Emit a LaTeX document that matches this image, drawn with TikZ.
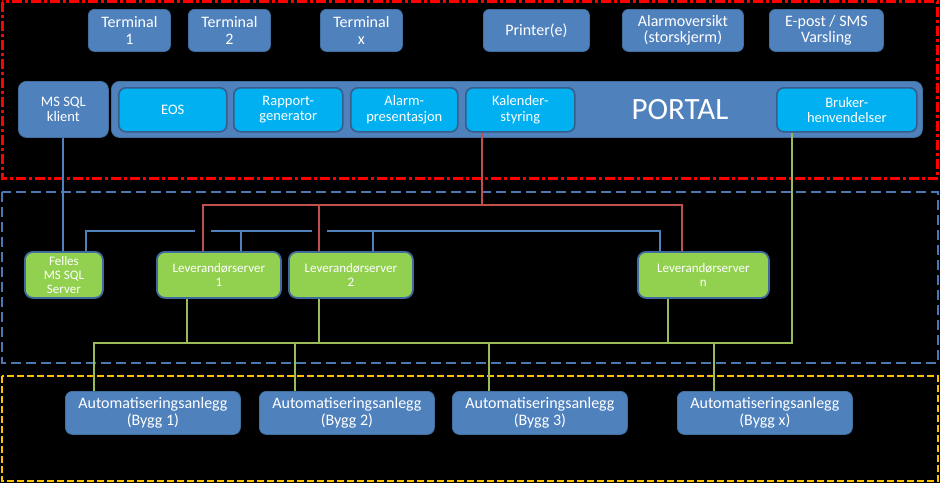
\documentclass[tikz,border=0pt]{standalone}
\usepackage{fontspec}
\setmainfont{Carlito}
\definecolor{boxblue}{HTML}{4F81BD}
\definecolor{boxedge}{HTML}{41709F}
\definecolor{cyanfill}{HTML}{00B0F0}
\definecolor{cyanedge}{HTML}{385D8A}
\definecolor{greenfill}{HTML}{92D050}
\definecolor{greenedge}{HTML}{3F6A9E}
\definecolor{redline}{HTML}{C0504D}
\definecolor{blueline}{HTML}{4F81BD}
\definecolor{greenline}{HTML}{9BBB59}
\definecolor{redframe}{HTML}{FF0000}
\definecolor{blueframe}{HTML}{4A78B4}
\definecolor{yellowframe}{HTML}{FFC000}
\tikzset{
  box/.style={rectangle, rounded corners=6pt, inner sep=0pt, anchor=north west, align=center, text=white},
  tbox/.style={box, fill=boxblue, draw=boxedge, line width=0.8pt, font=\fontsize{16}{16.5}\selectfont},
  pbox/.style={box, fill=cyanfill, draw=cyanedge, line width=1.6pt, rounded corners=7pt, font=\fontsize{14.5}{15.5}\selectfont},
  gbox/.style={box, fill=greenfill, draw=greenedge, line width=1.8pt, rounded corners=8pt, font=\fontsize{13}{14}\selectfont},
  abox/.style={box, fill=boxblue, draw=boxedge, line width=0.8pt, rounded corners=7pt, font=\fontsize{16}{17}\selectfont},
  rl/.style={draw=redline, line width=2pt},
  bl/.style={draw=blueline, line width=2pt},
  gl/.style={draw=greenline, line width=2pt},
}
\begin{document}
\begin{tikzpicture}[x=1pt,y=1pt]
\useasboundingbox (0,0) rectangle (940,-483);
\fill[black] (0,0) rectangle (940,-483);
% frames
\draw[redframe, line width=3pt, dash pattern=on 10pt off 3pt on 3pt off 3pt] (2,-1.5) rectangle (937.5,-178);
\draw[blueframe, line width=2.5pt, dash pattern=on 10pt off 5pt] (2,-192) rectangle (938,-363);
\draw[yellowframe, line width=2.5pt, dash pattern=on 7pt off 3pt] (2,-376) rectangle (938,-481);

% top row
\node[tbox, minimum width=82pt, minimum height=42pt] (t1) at (88,-9) {Terminal\\1};
\node[tbox, minimum width=82pt, minimum height=42pt] (t2) at (188,-9) {Terminal\\2};
\node[tbox, minimum width=82pt, minimum height=42pt] (tx) at (320,-9) {Terminal\\x};
\node[tbox, minimum width=106pt, minimum height=42pt] (pr) at (483,-9) {Printer(e)};
\node[tbox, minimum width=121pt, minimum height=42pt] (al) at (622,-9) {Alarmoversikt\\(storskjerm)};
\node[tbox, minimum width=114pt, minimum height=42pt] (ep) at (769,-9) {E-post / SMS\\Varsling};

% portal row
\node[tbox, rounded corners=8pt, minimum width=90pt, minimum height=56pt, font=\fontsize{14.5}{15.5}\selectfont] (msk) at (18,-81) {MS SQL\\klient};
\node[tbox, rounded corners=8pt, minimum width=811pt, minimum height=56pt] (portal) at (111,-81) {};
\node[text=white, font=\fontsize{31}{31}\selectfont, inner sep=0pt] (ptxt) at (680,-110) {PORTAL};
\node[pbox, minimum width=108pt, minimum height=44pt] (eos) at (118,-87) {EOS};
\node[pbox, minimum width=109pt, minimum height=44pt] (rap) at (233,-87) {Rapport-\\generator};
\node[pbox, minimum width=107pt, minimum height=44pt] (alp) at (350,-87) {Alarm-\\presentasjon};
\node[pbox, minimum width=109pt, minimum height=44pt] (kal) at (465,-87) {Kalender-\\styring};
\node[pbox, minimum width=140pt, minimum height=44pt] (bru) at (776,-87) {Bruker-\\henvendelser};

% coordinates for connectors
\coordinate (rj) at (482,-205);
\coordinate (r1) at (203,-205);
\coordinate (r2) at (319,-205);
\coordinate (rn) at (682,-205);
\coordinate (mx) at (63,-231);
\coordinate (bA) at (86,-231);
\coordinate (bB) at (195,-231);
\coordinate (bC) at (211,-231);
\coordinate (bD) at (312,-231);
\coordinate (bE) at (327,-231);
\coordinate (bF) at (660,-231);
\coordinate (b1) at (241,-231);
\coordinate (b2) at (373,-231);
\coordinate (gL) at (94,-343);
\coordinate (gR) at (792,-343);
\coordinate (g1) at (187,-343);
\coordinate (g2) at (319,-343);
\coordinate (gn) at (668,-343);
\coordinate (a2) at (295,-343);
\coordinate (a3) at (489,-343);
\coordinate (ax) at (714,-343);

% server row
\node[gbox, minimum width=78pt, minimum height=46pt] (fel) at (24,-251) {Felles\\MS SQL\\Server};
\node[gbox, minimum width=124pt, minimum height=46pt] (lev1) at (156,-251) {Leverandørserver\\1};
\node[gbox, minimum width=124pt, minimum height=46pt] (lev2) at (288,-251) {Leverandørserver\\2};
\node[gbox, minimum width=131pt, minimum height=46pt] (levn) at (637,-251) {Leverandørserver\\n};

% bottom row
\node[abox, minimum width=175pt, minimum height=43pt] (by1) at (65,-391) {Automatiseringsanlegg\\(Bygg 1)};
\node[abox, minimum width=175pt, minimum height=43pt] (by2) at (259,-391) {Automatiseringsanlegg\\(Bygg 2)};
\node[abox, minimum width=175pt, minimum height=43pt] (by3) at (452,-391) {Automatiseringsanlegg\\(Bygg 3)};
\node[abox, minimum width=175pt, minimum height=43pt] (byx) at (677,-391) {Automatiseringsanlegg\\(Bygg x)};

% connectors
\draw[bl] (mx |- msk.south) -- (mx |- fel.north);
\draw[rl] (rj |- kal.south) -- (rj);
\draw[rl] (r1 |- lev1.north) -- (r1) -- (rn) -- (rn |- levn.north);
\draw[rl] (r2) -- (r2 |- lev2.north);
\draw[bl] (bA |- fel.north) -- (bA) -- (bB);
\draw[bl] (bC) -- (bD);
\draw[bl] (bE) -- (bF) -- (bF |- levn.north);
\draw[bl] (b1) -- (b1 |- lev1.north);
\draw[bl] (b2) -- (b2 |- lev2.north);
\draw[gl] (gR |- bru.south) -- (gR) -- (gL) -- (gL |- by1.north);
\draw[gl] (g1 |- lev1.south) -- (g1);
\draw[gl] (g2 |- lev2.south) -- (g2);
\draw[gl] (gn |- levn.south) -- (gn);
\draw[gl] (a2) -- (a2 |- by2.north);
\draw[gl] (a3) -- (a3 |- by3.north);
\draw[gl] (ax) -- (ax |- byx.north);
\end{tikzpicture}
\end{document}
